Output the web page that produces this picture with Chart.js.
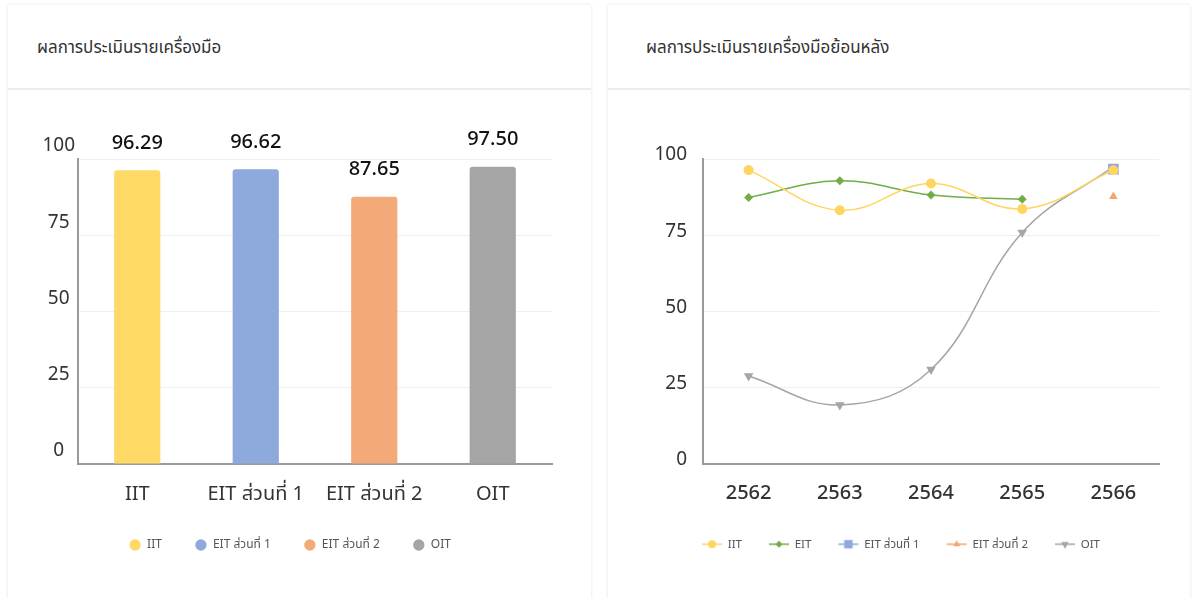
<!DOCTYPE html>
<html>
<head>
<meta charset="utf-8">
<script src="https://cdn.jsdelivr.net/npm/chart.js@4.4.0/dist/chart.umd.min.js"></script>
<style>
    body { margin: 0; background: #fff; font-family: "Noto Sans", "Noto Sans Thai", sans-serif; }
    .card { position: absolute; top: 5px; height: 600px; background: #fff; box-shadow: 0 0 3px rgba(0, 0, 0, 0.12); }
    .card-head { height: 85px; border-bottom: 2px solid #ececec; box-sizing: border-box; line-height: 84px; font-size: 17px; color: #333; }
    .card canvas { position: absolute; left: 0; top: 87px; }
</style>
</head>
<body>
<div class="card" style="left: 8px; width: 583px;">
    <div class="card-head" style="padding-left: 29px;">ผลการประเมินรายเครื่องมือ</div>
    <canvas id="toolChart" width="583" height="506"></canvas>
</div>
<div class="card" style="left: 608px; width: 582px;">
    <div class="card-head" style="padding-left: 38px;">ผลการประเมินรายเครื่องมือย้อนหลัง</div>
    <canvas id="historyChart" width="582" height="506"></canvas>
</div>
<script>
const barCategories = ["IIT", "EIT ส่วนที่ 1", "EIT ส่วนที่ 2", "OIT"];
const barValues = [96.29, 96.62, 87.65, 97.50];
const barColors = ["#FED966", "#8EAADC", "#F4AA78", "#A5A5A5"];

const years = ["2562", "2563", "2564", "2565", "2566"];
const iitScores = [96.35, 83.14, 91.95, 83.62, 96.29];
const eitScores = [87.36, 92.86, 88.18, 86.77, null];
const eitPart1Scores = [null, null, null, null, 96.62];
const eitPart2Scores = [null, null, null, null, 87.65];
const oitScores = [28.72, 19.24, 30.85, 75.85, 97.50];
const yTicks = [0, 25, 50, 75, 100];

Chart.defaults.font.family = '"Noto Sans", "Noto Sans Thai", sans-serif';
Chart.defaults.animation = false;

// value labels above the bars
const barValueLabels = {
    id: "barValueLabels",
    afterDatasetsDraw(chart) {
        const ctx = chart.ctx;
        const meta = chart.getDatasetMeta(0);
        ctx.save();
        ctx.font = '500 20px "Noto Sans", sans-serif';
        ctx.fillStyle = "#111";
        ctx.textAlign = "center";
        ctx.textBaseline = "middle";
        meta.data.forEach((bar, i) => {
            ctx.fillText(barValues[i].toFixed(2), bar.x, bar.y - 27);
        });
        ctx.restore();
    },
};

function yAxis(extra) {
    return Object.assign({
        min: 0,
        max: 100,
        afterBuildTicks: (scale) => { scale.ticks = yTicks.map((v) => ({ value: v })); },
        grid: { color: "#efefef", drawTicks: false },
        border: { color: "#9a9a9a", width: 2 },
    }, extra);
}

function xAxis(height, font) {
    return {
        offset: true,
        grid: { display: false, drawTicks: false },
        border: { color: "#9a9a9a", width: 2 },
        ticks: { color: "#333", padding: 18, font: font },
        afterFit: (scale) => { scale.height = height; },
    };
}

new Chart(document.getElementById("toolChart"), {
    type: "bar",
    data: {
        labels: barCategories,
        datasets: [{
            data: barValues,
            backgroundColor: barColors,
            borderRadius: 3,
            borderSkipped: "bottom",
            categoryPercentage: 1,
            barPercentage: 0.39,
        }],
    },
    options: {
        responsive: false,
        layout: { padding: { left: 20, right: 39, top: 67, bottom: 37 } },
        plugins: {
            tooltip: { enabled: false },
            legend: {
                position: "bottom",
                labels: {
                    usePointStyle: true,
                    boxHeight: 8,
                    padding: 33,
                    color: "#555",
                    font: { size: 12 },
                    generateLabels: () => barCategories.map((c, i) => ({
                        text: c,
                        fillStyle: barColors[i],
                        strokeStyle: barColors[i],
                        lineWidth: 0,
                        pointStyle: "circle",
                        fontColor: "#555",
                        hidden: false,
                        index: i,
                    })),
                },
            },
        },
        scales: {
            x: xAxis(42, { size: 20 }),
            y: yAxis({
                afterFit: (scale) => { scale.width = 50; },
                ticks: { color: "#333", padding: 3, crossAlign: "center", labelOffset: -13, font: { size: 19 } },
            }),
        },
    },
    plugins: [barValueLabels],
});

function legendIcon(style, color, radius, rotation) {
    const c = document.createElement("canvas");
    c.width = 22;
    c.height = 14;
    const ctx = c.getContext("2d");
    ctx.strokeStyle = color;
    ctx.fillStyle = color;
    ctx.lineWidth = 1.5;
    ctx.beginPath();
    ctx.moveTo(1, 7);
    ctx.lineTo(21, 7);
    ctx.stroke();
    Chart.helpers.drawPoint(ctx, { pointStyle: style, radius: radius, rotation: rotation || 0, borderWidth: 0 }, 11, 7);
    return c;
}

function lineSeries(label, data, color, style, radius, rotation) {
    return {
        label: label,
        data: data,
        borderColor: color,
        backgroundColor: color,
        borderWidth: 1.5,
        tension: 0.4,
        pointStyle: style,
        pointRadius: radius,
        pointRotation: rotation || 0,
        pointBorderWidth: 0,
        legendIcon: legendIcon(style, color, radius * 0.8, rotation),
    };
}

new Chart(document.getElementById("historyChart"), {
    type: "line",
    data: {
        labels: years,
        datasets: [
            lineSeries("IIT", iitScores, "#FFD561", "circle", 5),
            lineSeries("EIT", eitScores, "#70AD47", "rectRot", 4.5),
            lineSeries("EIT ส่วนที่ 1", eitPart1Scores, "#8EAADC", "rect", 7.5),
            lineSeries("EIT ส่วนที่ 2", eitPart2Scores, "#F4A46E", "triangle", 5),
            lineSeries("OIT", oitScores, "#A5A5A5", "triangle", 5.5, 180),
        ],
    },
    options: {
        responsive: false,
        layout: { padding: { left: 35, right: 31, top: 67, bottom: 38 } },
        plugins: {
            tooltip: { enabled: false },
            legend: {
                position: "bottom",
                labels: {
                    usePointStyle: true,
                    pointStyleWidth: 20,
                    boxHeight: 8,
                    padding: 27,
                    color: "#555",
                    font: { size: 11.5 },
                    generateLabels: (chart) => chart.data.datasets.map((ds, i) => ({
                        text: ds.label,
                        pointStyle: ds.legendIcon,
                        fillStyle: ds.borderColor,
                        strokeStyle: ds.borderColor,
                        lineWidth: 0,
                        fontColor: "#555",
                        hidden: false,
                        datasetIndex: i,
                    })),
                },
            },
        },
        scales: {
            x: xAxis(48, { size: 20, weight: "500" }),
            y: yAxis({
                afterFit: (scale) => { scale.width = 60; },
                ticks: { color: "#333", padding: 16, labelOffset: -4, font: { size: 19 } },
            }),
        },
    },
});
</script>
</body>
</html>
